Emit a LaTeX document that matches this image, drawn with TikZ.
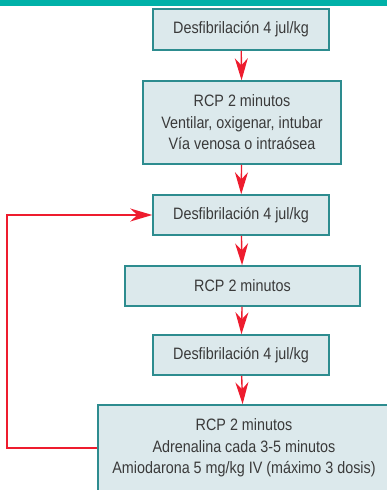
\documentclass[tikz,border=0pt]{standalone}
\usepackage{fontspec}
\setmainfont{Liberation Sans}[FakeStretch=0.87]
\usetikzlibrary{arrows.meta}
\definecolor{barteal}{HTML}{00B1A8}
\definecolor{boxfill}{HTML}{DCE9EC}
\definecolor{boxline}{HTML}{2D8C8F}
\definecolor{flowred}{HTML}{EE1C2E}
\definecolor{txtgray}{HTML}{3A3A3A}

\begin{document}
\begin{tikzpicture}[x=1pt,y=-1pt,
  box/.style={draw=boxline,line width=1.5pt,fill=boxfill,text=txtgray,
    inner sep=0pt,align=center,font=\fontsize{16.5}{21.5}\selectfont},
  flow/.style={flowred,line width=1.4pt,-{Stealth[length=22pt,width=13pt,inset=7pt]}}]
  \useasboundingbox (0,0) rectangle (387,490);
  \clip (0,0) rectangle (387,490);
  \fill[barteal] (0,0) rectangle (387,6);

  \node[box,minimum width=176pt,minimum height=41pt] (b1) at (241,29.5) {Desfibrilación 4 jul/kg};
  \node[box,minimum width=198pt,minimum height=83pt] (b2) at (242,122.5)
    {RCP 2 minutos\\Ventilar, oxigenar, intubar\\Vía venosa o intraósea};
  \node[box,minimum width=176pt,minimum height=40pt] (b3) at (241,215) {Desfibrilación 4 jul/kg};
  \node[box,minimum width=235pt,minimum height=40pt] (b4) at (242.5,286) {RCP 2 minutos};
  \node[box,minimum width=176pt,minimum height=40pt] (b5) at (241,355) {Desfibrilación 4 jul/kg};
  \node[box,minimum width=292pt,minimum height=86pt] (b6) at (244,448)
    {RCP 2 minutos\\Adrenalina cada 3-5 minutos\\Amiodarona 5 mg/kg IV (máximo 3 dosis)};
  \coordinate (back) at (7,0);

  \draw[flow] (b1) -- (b2);
  \draw[flow] (b2) -- (b3);
  \draw[flow] (b3) -- (b4);
  \draw[flow] (b4) -- (b5);
  \draw[flow] (b5) -- (b6);
  \draw[flow] (b6.west) -- (b6.west -| back) |- (b3.west);
\end{tikzpicture}
\end{document}
